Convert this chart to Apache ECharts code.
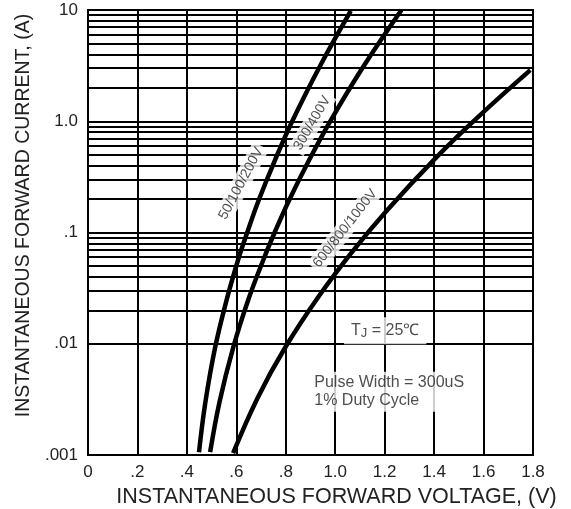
<!DOCTYPE html>
<html><head><meta charset="utf-8">
<script src="https://cdn.jsdelivr.net/npm/echarts@6/dist/echarts.min.js"></script>
<style>html,body{margin:0;padding:0;background:#fff}#c{width:571px;height:509px}</style>
</head><body><div id="c"></div>
<script>
const xTicks = [0, 0.2, 0.4, 0.6, 0.8, 1.0, 1.2, 1.4, 1.6, 1.8];
const xTickLabels = ['0', '.2', '.4', '.6', '.8', '1.0', '1.2', '1.4', '1.6', '1.8'];
const yTicks = [0.001, 0.01, 0.1, 1, 10];
const yTickLabels = ['.001', '.01', '.1', '1.0', '10'];
const minorGridValues = [
  0.002, 0.003, 0.004, 0.005, 0.006, 0.007, 0.008, 0.009,
  0.02, 0.03, 0.04, 0.05, 0.06, 0.07, 0.08, 0.09,
  0.2, 0.3, 0.4, 0.5, 0.6, 0.7, 0.8, 0.9,
  2, 3, 4, 5, 6, 7, 8, 9
];

const seriesNames = ['50/100/200V', '300/400V', '600/800/1000V'];
const curve1V = [0.449, 0.475, 0.514, 0.560, 0.610, 0.644, 0.690, 0.756, 0.828, 0.936, 1.063];
const curve1I = [0.00106, 0.0030, 0.0092, 0.0244, 0.0596, 0.1, 0.194, 0.446, 1.02, 3.06, 9.8];
const curve2V = [0.494, 0.532, 0.587, 0.647, 0.713, 0.755, 0.813, 0.894, 0.982, 1.112, 1.268];
const curve2I = [0.00106, 0.0030, 0.0092, 0.0244, 0.0596, 0.1, 0.194, 0.446, 1.02, 3.06, 10];
const curve3V = [0.587, 0.686, 0.797, 0.935, 1.066, 1.209, 1.409, 1.585, 1.789];
const curve3I = [0.00104, 0.00326, 0.0092, 0.027, 0.066, 0.158, 0.474, 1.13, 2.88];

// annotation anchors (data coordinates)
const curveLabelV = [0.619, 0.907, 1.04];
const curveLabelI = [0.276, 0.96, 0.109];
const curveLabelRotate = [62, 60, 52];
const noteTj = 'T{sub|J} = 25℃';
const noteTjV = 1.202, noteTjI = 0.0131;
const notePulse = 'Pulse Width = 300uS\n1% Duty Cycle';
const notePulseV = 0.895, notePulseI = 0.0037;

const zip = (a, b) => a.map((v, i) => [v, b[i]]);
const font = 'Liberation Sans, Arial, sans-serif';

const chart = echarts.init(document.getElementById('c'));
chart.setOption({
  animation: false,
  backgroundColor: '#fff',
  grid: { left: 88, right: 38, top: 10, bottom: 54, show: true, borderColor: '#000', borderWidth: 2,
    containLabel: false, outerBoundsMode: 'none' },
  xAxis: {
    type: 'value', min: 0, max: 1.8, interval: 0.2,
    name: 'INSTANTANEOUS FORWARD VOLTAGE, (V)', nameLocation: 'middle', nameGap: 27,
    nameTextStyle: { fontFamily: font, fontSize: 21.5, color: '#222', padding: [0, 0, 0, 52] },
    axisLine: { show: true, lineStyle: { color: '#000', width: 2 } },
    axisTick: { show: false },
    axisLabel: { fontFamily: font, fontSize: 17, color: '#222', margin: 9,
      formatter: v => xTickLabels[Math.round(v / 0.2)] },
    splitLine: { show: true, lineStyle: { color: '#000', width: 2 } }
  },
  yAxis: {
    type: 'log', logBase: 10, min: 0.001, max: 10,
    name: 'INSTANTANEOUS FORWARD CURRENT, (A)', nameLocation: 'middle', nameGap: 50,
    nameTextStyle: { fontFamily: font, fontSize: 19.5, color: '#222', padding: [0, 0, 0, 34] },
    axisLine: { show: true, lineStyle: { color: '#000', width: 2 } },
    axisTick: { show: false },
    axisLabel: { fontFamily: font, fontSize: 17, color: '#222', margin: 10,
      formatter: v => yTickLabels[Math.round(Math.log10(v)) + 3] },
    splitLine: { show: true, lineStyle: { color: '#000', width: 2 } }
  },
  series: [
    {
      type: 'line', data: [], z: 1, silent: true,
      markLine: {
        silent: true, symbol: 'none', label: { show: false }, animation: false,
        lineStyle: { color: '#000', width: 2, type: 'solid' },
        emphasis: { disabled: true },
        data: minorGridValues.map(v => ({ yAxis: v }))
      }
    },
    { name: seriesNames[0], type: 'line', data: zip(curve1V, curve1I), smooth: 0.4, showSymbol: false, z: 5,
      lineStyle: { color: '#000', width: 4.5 } },
    { name: seriesNames[1], type: 'line', data: zip(curve2V, curve2I), smooth: 0.4, showSymbol: false, z: 5,
      lineStyle: { color: '#000', width: 4.5 } },
    { name: seriesNames[2], type: 'line', data: zip(curve3V, curve3I), smooth: 0.4, showSymbol: false, z: 5,
      lineStyle: { color: '#000', width: 4.5 } },
    {
      type: 'scatter', z: 8, symbolSize: 0, silent: true,
      data: seriesNames.map((n, i) => ({
        value: [curveLabelV[i], curveLabelI[i]],
        label: { show: true, position: 'inside', formatter: n, rotate: curveLabelRotate[i],
          fontFamily: font, fontSize: 14, color: '#222', backgroundColor: '#fff', padding: [2, 3] }
      })).concat([
        { value: [noteTjV, noteTjI],
          label: { show: true, position: 'inside', formatter: noteTj, fontFamily: font, fontSize: 16, color: '#222',
            backgroundColor: '#fff', padding: [4, 7],
            rich: { sub: { fontSize: 13, fontFamily: font, color: '#222', padding: [6, 0, 0, 0] } } } },
        { value: [notePulseV, notePulseI],
          label: { show: true, position: 'right', distance: 0, align: 'left', formatter: notePulse,
            fontFamily: font, fontSize: 16, lineHeight: 18, color: '#222', backgroundColor: '#fff', padding: [2, 5] } }
      ])
    }
  ]
});
</script></body></html>
